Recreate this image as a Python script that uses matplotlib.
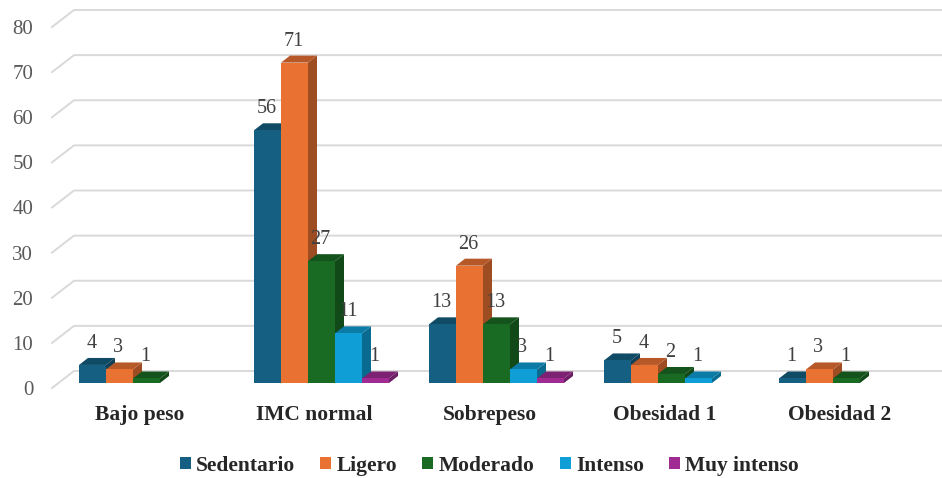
#!/usr/bin/env python3

import matplotlib
matplotlib.use("Agg")
import matplotlib.pyplot as plt
from matplotlib.colors import to_rgb
from matplotlib.patches import Polygon, Patch

# Datos
categorias = ["Bajo peso", "IMC normal", "Sobrepeso", "Obesidad 1", "Obesidad 2"]
sedentario = [4, 56, 13, 5, 1]
ligero = [3, 71, 26, 4, 3]
moderado = [1, 27, 13, 2, 1]
intenso = [0, 11, 3, 1, 0]
muy_intenso = [0, 1, 1, 0, 0]

series = [sedentario, ligero, moderado, intenso, muy_intenso]
nombres = ["Sedentario", "Ligero", "Moderado", "Intenso", "Muy intenso"]
colores = ["#156082", "#E97132", "#196B24", "#0F9ED5", "#A02B93"]
ticks_y = [0, 10, 20, 30, 40, 50, 60, 70, 80]

plt.rcParams["font.family"] = ["Liberation Serif", "DejaVu Serif"]

W, H = 942, 478
fig = plt.figure(figsize=(W / 100, H / 100), dpi=100)

# Area del grafico en pixeles
left, right = 52, 942
y0, y80 = 388, 27
ax = fig.add_axes([left / W, 1 - y0 / H, (right - left) / W, (y0 - y80) / H])

px_x = 175.0  # pixeles por categoria
px_y = (y0 - y80) / 80.0  # pixeles por unidad
centro0 = 146.5
ax.set_xlim((left - centro0) / px_x, (right - centro0) / px_x)
ax.set_ylim(0, 80)

# Pared del fondo: lineas diagonales y horizontales
pared_dx = 22 / px_x
pared_dy = 17 / px_y
x_min, x_max = ax.get_xlim()
for t in ticks_y:
    ax.plot([x_min, x_min + pared_dx, x_max], [t, t + pared_dy, t + pared_dy],
            color="#d9d9d9", lw=1.4, clip_on=False, zorder=1)


def oscurecer(color, f):
    return tuple(c * f for c in to_rgb(color))


# Barras con falsa profundidad
ancho = 27 / px_x
prof_x = 9 / px_x
prof_y = 7 / px_y
base = 5 / px_y

for j, valores in enumerate(series):
    for i, v in enumerate(valores):
        if v == 0:
            continue
        x1 = i + (j - 2.5) * ancho
        x2 = x1 + ancho
        tope = base + v
        z = 3 + j + i * 10
        # lado derecho y cara superior
        ax.add_patch(Polygon([(x2, base), (x2 + prof_x, base + prof_y),
                              (x2 + prof_x, tope + prof_y), (x2, tope)],
                             facecolor=oscurecer(colores[j], 0.68), edgecolor="none",
                             clip_on=False, zorder=z))
        ax.add_patch(Polygon([(x1, tope), (x1 + prof_x, tope + prof_y),
                              (x2 + prof_x, tope + prof_y), (x2, tope)],
                             facecolor=oscurecer(colores[j], 0.78), edgecolor="none",
                             clip_on=False, zorder=z))
        ax.bar(x1, v, width=ancho, bottom=base, align="edge", color=colores[j],
               clip_on=False, zorder=z + 0.5)
        ax.text(x1 + ancho / 2 - 1 / px_x, tope + 21.5 / px_y, str(v), ha="center", va="center",
                fontsize=14.5, color="#404040", zorder=100)

# Ejes
for s in ax.spines.values():
    s.set_visible(False)
ax.patch.set_visible(False)
ax.set_yticks(ticks_y)
ax.tick_params(axis="y", length=0, pad=13.5, labelsize=15, labelcolor="#595959")
ax.set_xticks([i - 7 / px_x for i in range(len(categorias))])
ax.set_xticklabels(categorias, fontweight="bold", fontsize=15.5, color="#262626")
ax.tick_params(axis="x", length=0, pad=12)

# Leyenda
handles = [Patch(facecolor=c, label=n) for c, n in zip(colores, nombres)]
fig.legend(handles=handles, loc="center", bbox_to_anchor=(489.5 / W, 1 - 466 / H), ncol=5,
           frameon=False, prop={"weight": "bold", "size": 15.5}, labelcolor="#262626",
           handlelength=0.51, handleheight=0.5, handletextpad=0.25, columnspacing=1.16,
           borderpad=0)

fig.savefig("out.png", dpi=100)
